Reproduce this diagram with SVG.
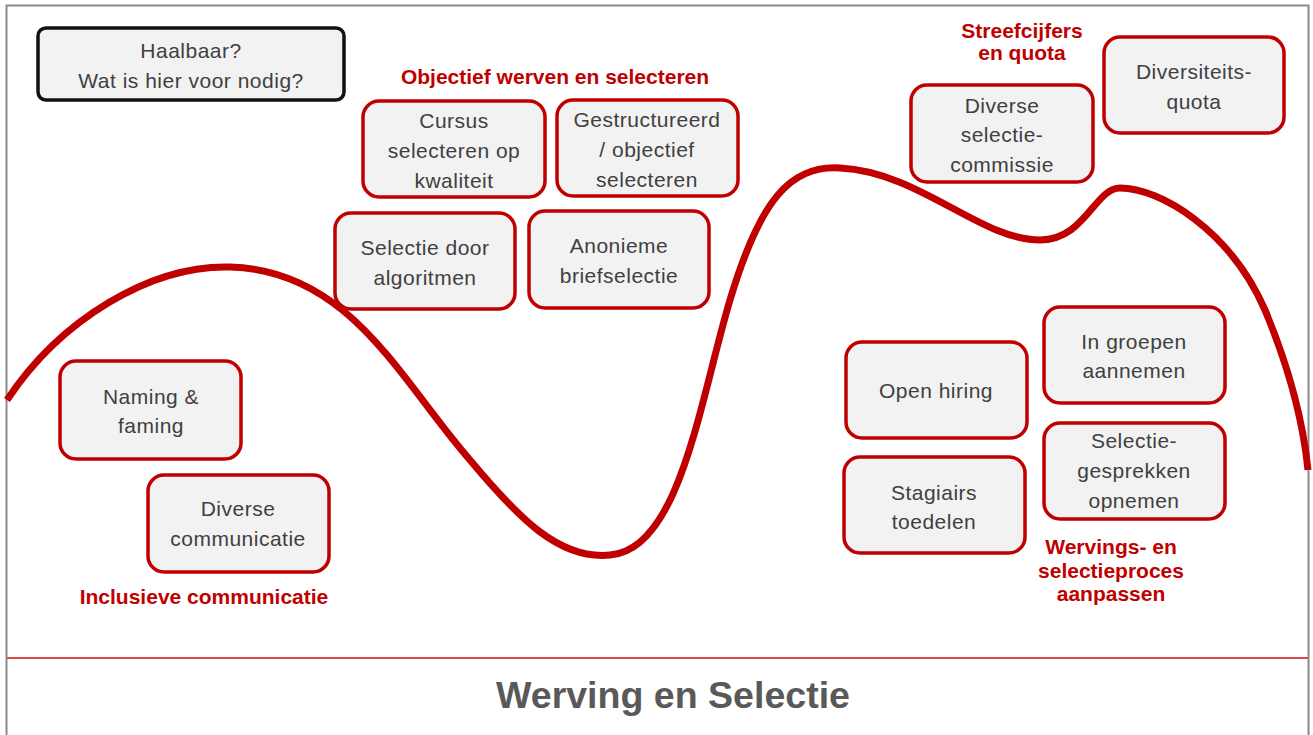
<svg xmlns="http://www.w3.org/2000/svg" width="1313" height="735" viewBox="0 0 1313 735">
<style>
.box{fill:#F2F2F2;stroke:#C00000;stroke-width:3.5}
.blk{fill:#F2F2F2;stroke:#111;stroke-width:3.5}
.t{font-family:"Liberation Sans",Arial,sans-serif;font-size:21px;letter-spacing:0.5px;fill:#404040;text-anchor:middle}
.h{font-family:"Liberation Sans",Arial,sans-serif;font-size:21px;font-weight:bold;fill:#C00000;text-anchor:middle}
</style>
<rect x="0" y="0" width="1313" height="735" fill="#fff"/>
<rect x="6.5" y="5.5" width="1302" height="745" fill="none" stroke="#8a8a8a" stroke-width="2"/>
<line x1="7" y1="658" x2="1308" y2="658" stroke="#E04848" stroke-width="2"/>
<text x="673" y="708" font-family="Liberation Sans,Arial,sans-serif" font-size="37" font-weight="bold" fill="#595959" text-anchor="middle" textLength="354" lengthAdjust="spacingAndGlyphs">Werving en Selectie</text>
<g id="connectors">
<path d="M 7,400 C 60,320 150,265 230,267 C 350,270 400,380 470,460 C 520,520 560,560 610,555 C 680,550 700,400 730,300 C 760,200 790,165 840,168 C 920,172 980,240 1040,240 C 1085,240 1095,188 1120,188 C 1160,188 1230,230 1265,310 C 1290,370 1303,420 1308,470" fill="none" stroke="#C00000" stroke-width="7"/>
</g>
<g id="haalbaar"><rect class="blk" x="38" y="28" width="306" height="72" rx="8"/><text class="t" x="191" y="58">Haalbaar?</text><text class="t" x="191" y="88">Wat is hier voor nodig?</text></g>
<g id="label-objectief"><text class="h" x="555" y="84">Objectief werven en selecteren</text></g>
<g id="cursus"><rect class="box" x="363" y="101" width="182" height="96" rx="16"/><text class="t" x="454" y="128">Cursus</text><text class="t" x="454" y="158">selecteren op</text><text class="t" x="454" y="188">kwaliteit</text></g>
<g id="gestructureerd"><rect class="box" x="557" y="100" width="181" height="96" rx="16"/><text class="t" x="647" y="127">Gestructureerd</text><text class="t" x="647" y="157">/ objectief</text><text class="t" x="647" y="187">selecteren</text></g>
<g id="algoritmen"><rect class="box" x="335" y="213" width="180" height="96" rx="16"/><text class="t" x="425" y="255">Selectie door</text><text class="t" x="425" y="285">algoritmen</text></g>
<g id="anonieme"><rect class="box" x="529" y="211" width="180" height="97" rx="16"/><text class="t" x="619" y="253">Anonieme</text><text class="t" x="619" y="283">briefselectie</text></g>
<g id="label-streefcijfers"><text class="h" x="1022" y="38">Streefcijfers</text><text class="h" x="1022" y="60">en quota</text></g>
<g id="selectiecommissie"><rect class="box" x="911" y="85" width="182" height="97" rx="16"/><text class="t" x="1002" y="113">Diverse</text><text class="t" x="1002" y="142">selectie-</text><text class="t" x="1002" y="172">commissie</text></g>
<g id="diversiteitsquota"><rect class="box" x="1104" y="37" width="180" height="96" rx="16"/><text class="t" x="1194" y="79">Diversiteits-</text><text class="t" x="1194" y="109">quota</text></g>
<g id="naming"><rect class="box" x="60" y="361" width="181" height="98" rx="16"/><text class="t" x="151" y="404">Naming &amp;</text><text class="t" x="151" y="433">faming</text></g>
<g id="diversecommunicatie"><rect class="box" x="148" y="475" width="181" height="97" rx="16"/><text class="t" x="238" y="516">Diverse</text><text class="t" x="238" y="546">communicatie</text></g>
<g id="label-inclusieve"><text class="h" x="204" y="604">Inclusieve communicatie</text></g>
<g id="openhiring"><rect class="box" x="846" y="342" width="181" height="96" rx="16"/><text class="t" x="936" y="398">Open hiring</text></g>
<g id="stagiairs"><rect class="box" x="844" y="457" width="181" height="96" rx="16"/><text class="t" x="934" y="500">Stagiairs</text><text class="t" x="934" y="529">toedelen</text></g>
<g id="ingroepen"><rect class="box" x="1044" y="307" width="181" height="96" rx="16"/><text class="t" x="1134" y="349">In groepen</text><text class="t" x="1134" y="378">aannemen</text></g>
<g id="gesprekken"><rect class="box" x="1044" y="423" width="181" height="96" rx="16"/><text class="t" x="1134" y="448">Selectie-</text><text class="t" x="1134" y="478">gesprekken</text><text class="t" x="1134" y="508">opnemen</text></g>
<g id="label-wervings"><text class="h" x="1111" y="554">Wervings- en</text><text class="h" x="1111" y="578">selectieproces</text><text class="h" x="1111" y="601">aanpassen</text></g>
</svg>
